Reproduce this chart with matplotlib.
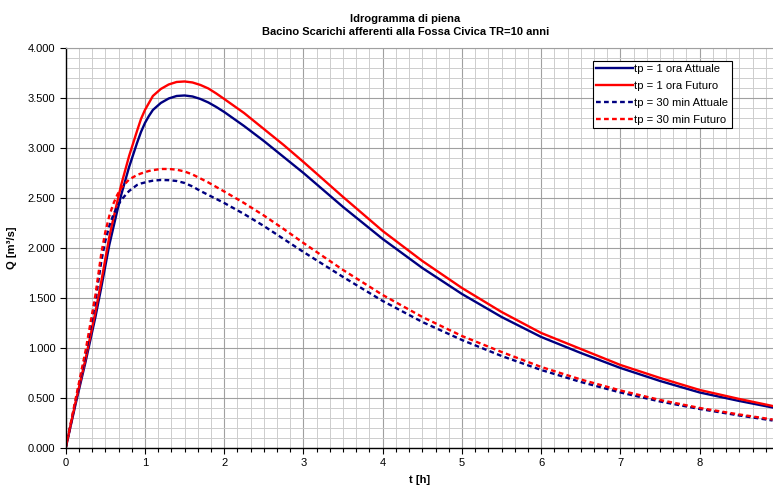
import matplotlib
matplotlib.use("Agg")
import matplotlib.pyplot as plt
from matplotlib.ticker import MultipleLocator, FuncFormatter

plt.rcParams['font.family'] = ['Liberation Sans', 'DejaVu Sans']

# tempi [h]
t = [0, 0.125, 0.25, 0.375, 0.45, 0.5, 0.55, 0.6, 0.65, 0.7,
     0.8, 0.9, 0.95, 1.0, 1.05, 1.1, 1.2, 1.3, 1.4, 1.5,
     1.6, 1.7, 1.8, 1.9, 2.0, 2.25, 2.5, 2.75, 3.0, 3.5,
     4.0, 4.5, 5.0, 5.5, 6.0, 6.5, 7.0, 7.5, 8.0, 8.5, 8.92]

# portate [m3/s]
q_1h_att = [0, 0.44, 0.86, 1.31, 1.61, 1.82, 2.03, 2.20, 2.37, 2.53,
            2.81, 3.05, 3.16, 3.25, 3.32, 3.38, 3.45, 3.495, 3.52, 3.525,
            3.515, 3.49, 3.455, 3.41, 3.36, 3.22, 3.07, 2.91, 2.75, 2.41,
            2.09, 1.80, 1.54, 1.31, 1.11, 0.95, 0.80, 0.67, 0.555, 0.47, 0.405]
q_1h_fut = [0, 0.46, 0.89, 1.36, 1.67, 1.89, 2.11, 2.29, 2.46, 2.63,
            2.92, 3.17, 3.29, 3.38, 3.45, 3.52, 3.59, 3.635, 3.66, 3.665,
            3.655, 3.63, 3.595, 3.545, 3.49, 3.35, 3.19, 3.03, 2.86, 2.51,
            2.17, 1.87, 1.60, 1.36, 1.15, 0.99, 0.83, 0.70, 0.58, 0.49, 0.42]
q_30m_att = [0, 0.47, 0.93, 1.47, 1.87, 2.07, 2.22, 2.33, 2.41, 2.48,
             2.57, 2.63, 2.645, 2.655, 2.665, 2.673, 2.68, 2.678, 2.67, 2.65,
             2.615, 2.57, 2.53, 2.49, 2.45, 2.34, 2.22, 2.09, 1.96, 1.71,
             1.47, 1.26, 1.08, 0.92, 0.78, 0.66, 0.555, 0.465, 0.39, 0.325, 0.275]
q_30m_fut = [0, 0.49, 0.97, 1.53, 1.95, 2.16, 2.32, 2.44, 2.53, 2.60,
             2.685, 2.73, 2.745, 2.758, 2.77, 2.778, 2.79, 2.79, 2.783, 2.765,
             2.735, 2.695, 2.655, 2.61, 2.565, 2.45, 2.325, 2.19, 2.05, 1.78,
             1.53, 1.31, 1.12, 0.96, 0.81, 0.685, 0.575, 0.48, 0.40, 0.335, 0.285]

labels = ["tp = 1 ora Attuale", "tp = 1 ora Futuro",
          "tp = 30 min Attuale", "tp = 30 min Futuro"]

navy = '#000080'
red = '#ff0000'

fig = plt.figure(figsize=(7.73, 4.88), dpi=100)
ax = fig.add_axes([0.085, 0.082, 0.915, 0.8197])

lw = 1.7
dash = (0, (2.0, 1.4))
ax.plot(t, q_1h_att, color=navy, lw=lw, label=labels[0])
ax.plot(t, q_1h_fut, color=red, lw=lw, label=labels[1])
ax.plot(t, q_30m_att, color=navy, lw=lw, ls=dash, label=labels[2])
ax.plot(t, q_30m_fut, color=red, lw=lw, ls=dash, label=labels[3])

ax.set_xlim(0, 8.925)
ax.set_ylim(0, 4.0)

ax.xaxis.set_major_locator(MultipleLocator(1))
ax.xaxis.set_minor_locator(MultipleLocator(1 / 6))
ax.yaxis.set_major_locator(MultipleLocator(0.5))
ax.yaxis.set_minor_locator(MultipleLocator(0.1))
ax.yaxis.set_major_formatter(FuncFormatter(lambda v, p: f"{v:.3f}"))

ax.grid(which='major', color='#a0a0a0', lw=0.8)
ax.grid(which='minor', color='#cdcdcd', lw=0.7)
ax.set_axisbelow(True)

ax.tick_params(which='major', direction='out', length=4, width=0.8, labelsize=8, colors='black')
ax.tick_params(which='minor', direction='out', length=3, width=0.8)
ax.tick_params(axis='y', which='minor', length=0)

ax.spines['right'].set_visible(False)
ax.spines['top'].set_color('#a0a0a0')
ax.spines['left'].set_linewidth(1.0)
ax.spines['bottom'].set_linewidth(1.0)

ax.set_xlabel("t [h]", fontsize=8, fontweight='bold', labelpad=5)
ax.set_ylabel("Q [m³/s]", fontsize=8, fontweight='bold', labelpad=8)
ax.set_title("Idrogramma di piena\nBacino Scarichi afferenti alla Fossa Civica TR=10 anni",
             fontsize=8, fontweight='bold', pad=9, linespacing=1.45, x=0.48)

leg = ax.legend(loc='upper right', bbox_to_anchor=(0.9416, 0.968), fontsize=8.1,
                frameon=True, fancybox=False, framealpha=1, edgecolor='black',
                handlelength=3.3, handletextpad=0.1, labelspacing=0.62,
                borderpad=0.3, borderaxespad=0)
leg.get_frame().set_linewidth(0.8)

fig.savefig("out.png", dpi=100)
